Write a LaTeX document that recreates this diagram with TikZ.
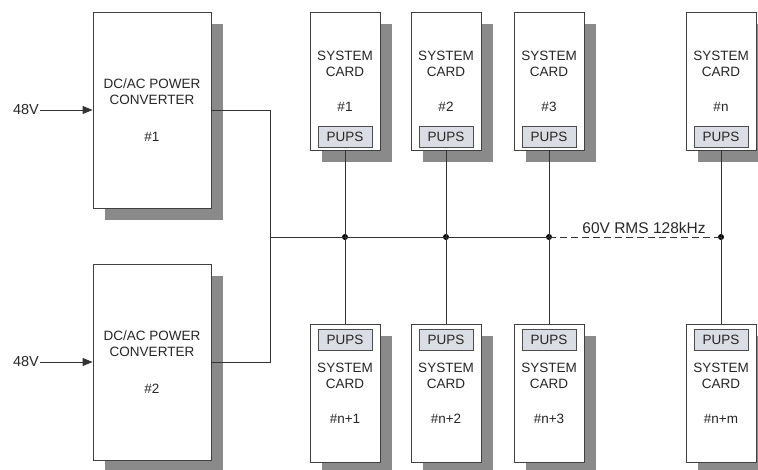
\documentclass[tikz,border=0pt]{standalone}
\usepackage{fontspec}
\setmainfont{Liberation Sans}
\usetikzlibrary{arrows.meta,positioning,calc,shadows}
\definecolor{pupsgray}{RGB}{218,221,227}
\definecolor{shadowgray}{RGB}{138,138,138}
\tikzset{
  schatten/.style={drop shadow={shadow xshift=12pt,shadow yshift=-12pt,fill=shadowgray,opacity=1}},
  conv/.style={draw=black!75,line width=0.9pt,fill=white,minimum width=118pt,minimum height=196pt,
               align=center,text=black!85,font=\fontsize{13.5}{16}\selectfont,schatten},
  card/.style={draw=black!75,line width=0.9pt,fill=white,minimum width=70pt,minimum height=138pt,
               inner sep=0pt,schatten},
  ctext/.style={align=center,text=black!85,font=\fontsize{13.5}{16}\selectfont},
  pups/.style={draw=black!70,line width=0.9pt,fill=pupsgray,minimum width=54pt,minimum height=21pt,
               inner sep=0pt,text=black!85,font=\fontsize{13.5}{16}\selectfont},
  volt/.style={inner sep=1pt,text=black!85,font=\fontsize{14.5}{16}\selectfont},
  leitung/.style={line width=0.9pt,draw=black!80},
  pfeil/.style={leitung,-{Triangle[length=10pt,width=8pt]}},
  punkt/.style={circle,fill=black,inner sep=0pt,minimum size=6pt},
}
\begin{document}
\begin{tikzpicture}[x=1pt,y=-1pt]
  \useasboundingbox (0,0) rectangle (758,470);
  % converters
  \node[conv] (c1) at (152,110) {DC/AC POWER\\CONVERTER\\[21pt]\#1};
  \node[conv] (c2) at (152,362) {DC/AC POWER\\CONVERTER\\[21pt]\#2};
  \node[volt,anchor=east] (v1) at (40,110) {48V};
  \node[volt,anchor=east] (v2) at (40,362) {48V};
  \draw[pfeil] (v1) -- (c1);
  \draw[pfeil] (v2) -- (c2);
  % system cards
  \foreach \x/\n/\lab in {345/1/1,446/2/2,549/3/3,721/4/n}{
    \node[card] (t\n) at (\x,81.5) {};
    \node[ctext] (tt\n) at (t\n) {SYSTEM\\CARD\\[19pt]\#\lab};
    \node[pups,above=3pt of t\n.south] (tp\n) {PUPS};
  }
  \foreach \x/\n/\lab in {345/1/1,446/2/2,549/3/3,721/4/m}{
    \node[card] (b\n) at (\x,393.5) {};
    \node[ctext] (bt\n) at (b\n) {SYSTEM\\CARD\\[19pt]\#n+\lab};
    \node[pups,below=4.5pt of b\n.north] (bp\n) {PUPS};
  }
  % bus
  \coordinate (jn) at (270,237);
  \foreach \x/\n in {345/1,446/2,549/3,721/4}
    \node[punkt] (d\n) at (\x,237) {};
  \draw[leitung] (c1.east) -| (jn);
  \draw[leitung] (c2.east) -| (jn);
  \draw[leitung] (jn) -- (d3.center);
  \draw[leitung,dash pattern=on 7pt off 4pt] (d3.center) -- (d4.center);
  \foreach \n in {1,2,3,4}
    \draw[leitung] (t\n.south) -- (b\n.north);
  \node[volt,font=\fontsize{15.5}{17}\selectfont] (buslab) at (644,228) {60V RMS 128kHz};
\end{tikzpicture}
\end{document}
